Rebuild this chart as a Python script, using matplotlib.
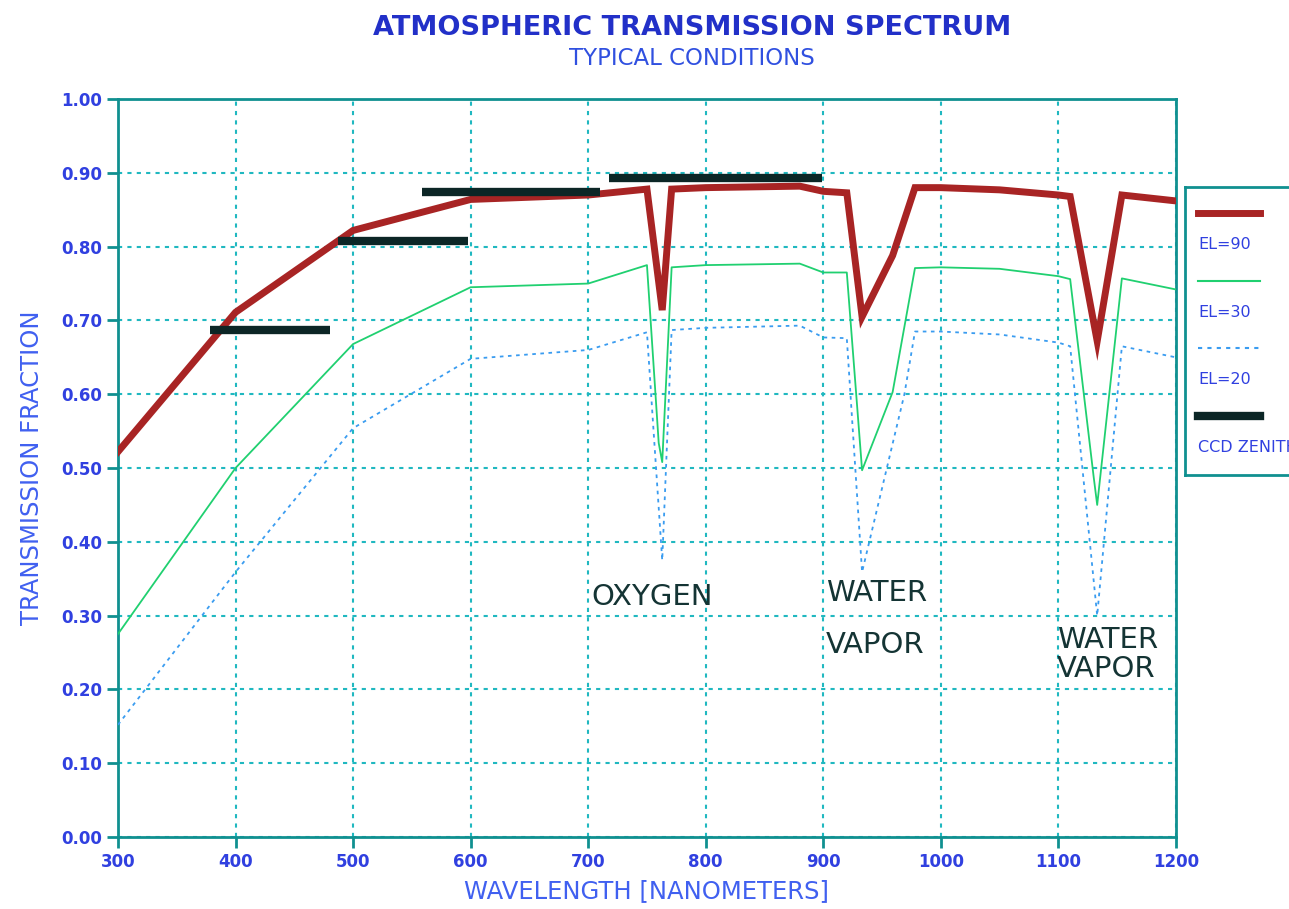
import matplotlib
matplotlib.use("Agg")
import matplotlib.pyplot as plt

# EL=90 (zenith)
wl_90 = [300, 400, 500, 600, 700, 750, 763, 771, 800, 880, 900, 920, 933, 959, 978,
         1000, 1050, 1100, 1110, 1133, 1154, 1200]
tr_90 = [0.522, 0.711, 0.822, 0.864, 0.870, 0.878, 0.714, 0.878, 0.880, 0.882, 0.875, 0.873, 0.705,
         0.788, 0.880, 0.880, 0.877, 0.870, 0.868, 0.672, 0.870, 0.862]

# EL=30
wl_30 = [300, 400, 500, 600, 700, 750, 760, 763, 771, 800, 880, 900, 920, 933, 959, 978,
         1000, 1050, 1100, 1110, 1130, 1133, 1154, 1200]
tr_30 = [0.275, 0.500, 0.668, 0.745, 0.750, 0.775, 0.534, 0.508, 0.772, 0.775, 0.777, 0.765, 0.765,
         0.497, 0.603, 0.771, 0.772, 0.770, 0.760, 0.756, 0.488, 0.450, 0.757, 0.742]

# EL=20
wl_20 = [300, 400, 500, 600, 700, 750, 763, 771, 800, 880, 900, 920, 933, 969, 978,
         1000, 1050, 1100, 1110, 1133, 1154, 1200]
tr_20 = [0.152, 0.359, 0.554, 0.648, 0.660, 0.684, 0.375, 0.687, 0.690, 0.693, 0.677, 0.676, 0.359,
         0.600, 0.685, 0.685, 0.681, 0.670, 0.665, 0.300, 0.665, 0.650]

# CCD zenith bands: start, end, transmission
ccd_start = [378, 487, 559, 718]
ccd_end = [480, 598, 710, 899]
ccd_tr = [0.687, 0.808, 0.874, 0.893]

xticks = [300, 400, 500, 600, 700, 800, 900, 1000, 1100, 1200]
yticks = [0.0, 0.1, 0.2, 0.3, 0.4, 0.5, 0.6, 0.7, 0.8, 0.9, 1.0]

teal = "#109090"
tick_blue = "#3040e0"
label_blue = "#4060f0"

fig = plt.figure(figsize=(12.89, 9.09), dpi=100)
ax = fig.add_axes([0.0915, 0.0792, 0.8208, 0.8118])

ax.plot(wl_20, tr_20, color="#3a9cf0", lw=1.3, ls=(0, (2, 2.5)), zorder=3)
ax.plot(wl_30, tr_30, color="#20d070", lw=1.3, zorder=3)
ax.plot(wl_90, tr_90, color="#a82424", lw=5, solid_joinstyle="miter", zorder=4)
ax.hlines(ccd_tr, ccd_start, ccd_end, color="#0c2626", lw=6, zorder=5)

ax.set_xlim(300, 1200)
ax.set_ylim(0, 1.0)
ax.set_xticks(xticks)
ax.set_yticks(yticks)
ax.set_xticklabels([str(t) for t in xticks])
ax.set_yticklabels(["%.2f" % t for t in yticks])
ax.grid(True, color="#20b8c0", ls=(0, (2, 2.5)), lw=1.5)
for s in ax.spines.values():
    s.set_color(teal)
    s.set_linewidth(2)
ax.tick_params(colors=teal, length=8, width=2, direction="out")
for lab in ax.get_xticklabels() + ax.get_yticklabels():
    lab.set_color(tick_blue)
    lab.set_fontsize(12)
    lab.set_fontweight("bold")

ax.set_xlabel("WAVELENGTH [NANOMETERS]", color=label_blue, fontsize=17.5, labelpad=6)
ax.set_ylabel("TRANSMISSION FRACTION", color=label_blue, fontsize=17.5, labelpad=12)

# titles sit a bit right of centre, as in the original
fig.text(0.537, 0.969, "ATMOSPHERIC TRANSMISSION SPECTRUM", ha="center", va="center",
         color="#2230c8", fontsize=19.5, fontweight="bold", family="DejaVu Sans")
fig.text(0.537, 0.936, "TYPICAL CONDITIONS", ha="center", va="center",
         color="#3050e0", fontsize=16.5, family="DejaVu Sans")

note = dict(color="#143434", fontsize=21, family="DejaVu Sans", va="center", ha="left")
ax.text(703, 0.325, "OXYGEN", **note)
ax.text(902, 0.330, "WATER", **note)
ax.text(902, 0.260, "VAPOR", **note)
ax.text(1099, 0.267, "WATER", **note)
ax.text(1099, 0.228, "VAPOR", **note)

# legend box, cut off at the right edge
lg = fig.add_axes([1185 / 1289, (909 - 475) / 909, 0.2, (475 - 187) / 909])
lg.set_xlim(0, 1)
lg.set_ylim(0, 1)
lg.set_xticks([])
lg.set_yticks([])
for s in lg.spines.values():
    s.set_color(teal)
    s.set_linewidth(2)
names = ["EL=90", "EL=30", "EL=20", "CCD ZENITH"]
styles = [dict(color="#a82424", lw=5), dict(color="#20d070", lw=1.5),
          dict(color="#3a9cf0", lw=1.5, ls=(0, (2, 2.5))), dict(color="#0c2626", lw=6)]
for i, (name, st) in enumerate(zip(names, styles)):
    y0 = 0.91 - i * 0.235
    lg.plot([0.05, 0.29], [y0, y0], **st)
    lg.text(0.05, y0 - 0.11, name, color=tick_blue, fontsize=11.5, va="center", ha="left")

fig.savefig("out.png", dpi=100)
